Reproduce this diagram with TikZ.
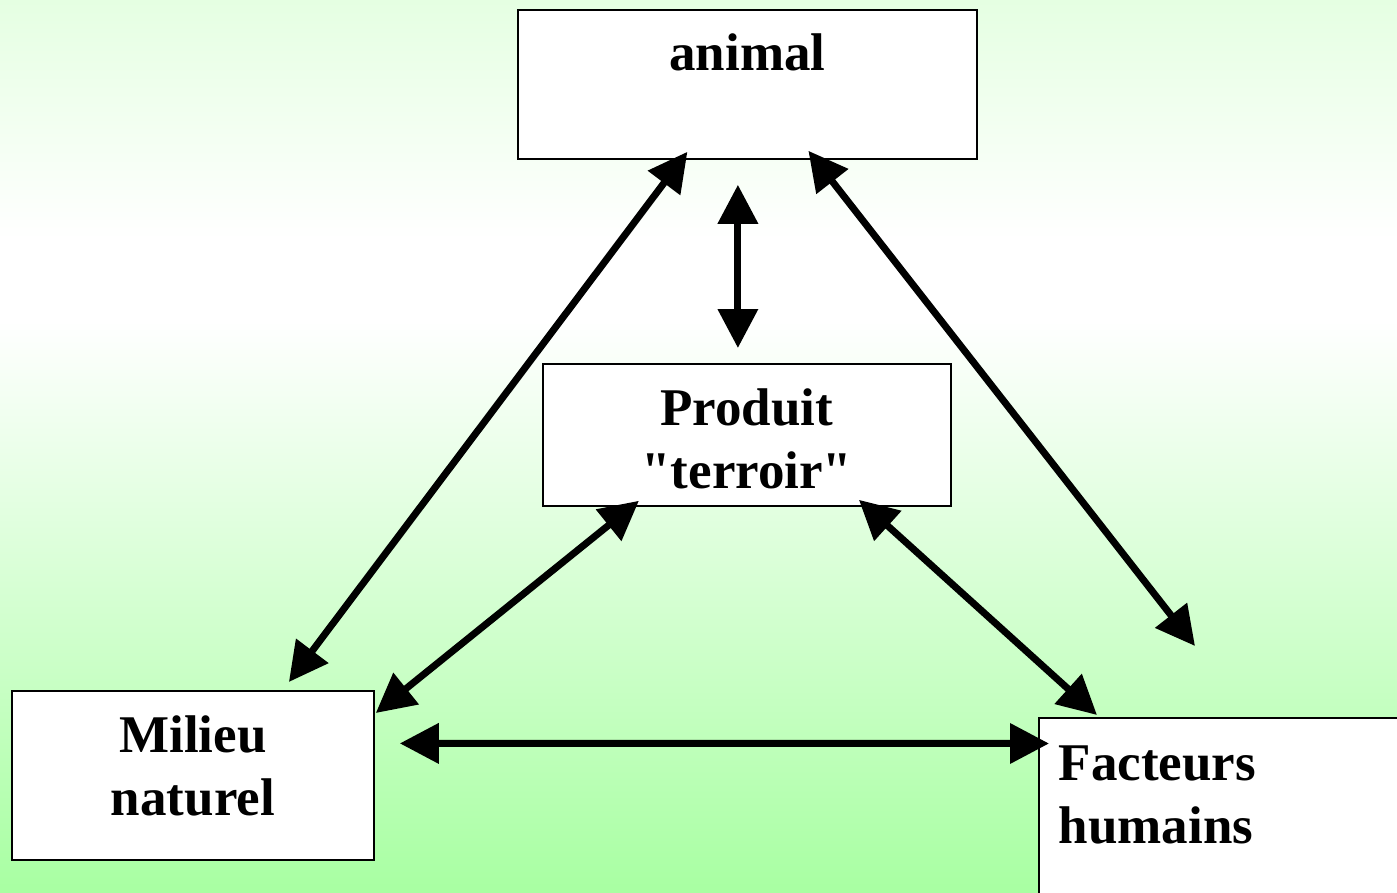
\documentclass[tikz,border=0pt]{standalone}
\usepackage{fontspec}
\setmainfont{Liberation Serif}
\usetikzlibrary{arrows.meta}
\definecolor{topgreen}{HTML}{E5FFE2}
\definecolor{lowgreen}{HTML}{A8FFA2}

\begin{document}
\begin{tikzpicture}[x=1pt, y=-1pt,
    termbox/.style={rectangle, draw=black, line width=1.8pt, fill=white, inner sep=0pt, font=\bfseries\fontsize{53}{63}\selectfont},
    arrow/.style={line width=7pt, {Triangle[length=39pt, width=39pt]}-{Triangle[length=39pt, width=39pt]}},
]

% Background
\useasboundingbox (0,0) rectangle (1397,893);
\clip (0,0) rectangle (1397,893);
\shade [top color=topgreen, bottom color=white] (0,0) rectangle (1397,240);
\fill [white] (0,240) rectangle (1397,320);
\shade [top color=white, bottom color=lowgreen] (0,320) rectangle (1397,893);

% Boxes
\node (animal) [termbox, anchor=north west, minimum width=459pt, text height=61pt, text depth=88pt] at (517,9) {animal};
\node (produit) [termbox, anchor=north west, minimum width=408pt, align=center, text height=125pt, text depth=17pt] at (542,363) {Produit\\\textquotedbl terroir\textquotedbl};
\node (milieu) [termbox, anchor=north west, minimum width=362pt, align=center, text height=125pt, text depth=44pt] at (11,690) {Milieu\\naturel};
\node (facteurs) [termbox, anchor=north west, text width=360pt, inner xsep=20pt, align=left, text height=63pt, text depth=200pt] at (1038,717) {Facteurs\\humains};

% Arrows
\draw [arrow] ([xshift=-60pt, yshift=8pt]animal.south) -- ([xshift=96pt, yshift=8pt]milieu.north);
\draw [arrow] ([xshift=61pt, yshift=9pt]animal.south) -- ([xshift=157pt, yshift=71pt]facteurs.north west);
\draw [arrow] ([xshift=-9.5pt, yshift=-25pt]animal.south) -- ([xshift=-9pt, yshift=15pt]produit.north);
\draw [arrow] ([xshift=-108pt, yshift=6pt]produit.south) -- ([xshift=1pt, yshift=-23pt]milieu.north east);
\draw [arrow] ([xshift=112pt, yshift=7pt]produit.south) -- ([xshift=59pt, yshift=2pt]facteurs.north west);
\draw [arrow] ([xshift=25pt, yshift=32pt]milieu.east) -- ([xshift=11pt, yshift=-26.5pt]facteurs.north west);

\end{tikzpicture}
\end{document}
